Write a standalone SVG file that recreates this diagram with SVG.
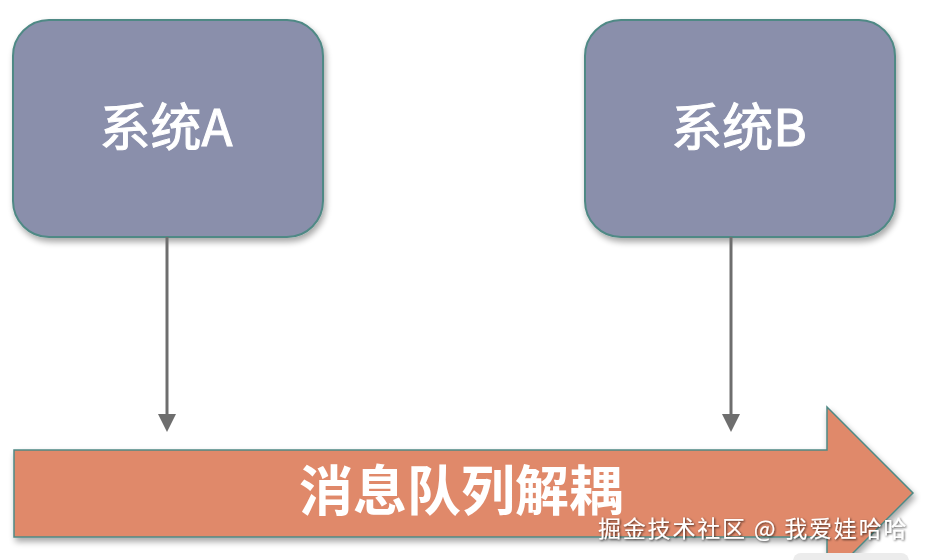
<svg xmlns="http://www.w3.org/2000/svg" width="926" height="560" viewBox="0 0 926 560">
<defs>
<style>
.box{fill:#8a8fab;stroke:#4f8985;stroke-width:2}
.lbl{fill:#ffffff;font-family:"Noto Sans CJK SC","Noto Sans",sans-serif;text-anchor:middle}
.conn{stroke:#6e6e6e;stroke-width:3;fill:none}
.wm{fill:#ffffff;font-family:"Noto Sans CJK SC",sans-serif;font-size:23px;letter-spacing:1.8px}
</style>
<filter id="sh" x="-10%" y="-10%" width="130%" height="130%">
<feGaussianBlur in="SourceAlpha" stdDeviation="3"/>
<feOffset dx="2" dy="4" result="b"/>
<feComponentTransfer><feFuncA type="linear" slope="0.35"/></feComponentTransfer>
<feMerge><feMergeNode/><feMergeNode in="SourceGraphic"/></feMerge>
</filter>
<filter id="ts" x="-5%" y="-20%" width="110%" height="140%">
<feDropShadow dx="1" dy="1" stdDeviation="0.8" flood-color="#000" flood-opacity="0.7"/>
</filter>
</defs>
<rect width="926" height="560" fill="#ffffff"/>
<g id="queue">
<path d="M14 450 H827 V407 L913 493 L827 579 V537 H14 Z" fill="#e0896b" stroke="#4f8985" stroke-width="1.5" filter="url(#sh)"/>
<text class="lbl" x="461" y="511" font-size="54" font-weight="bold">消息队列解耦</text>
</g>
<g id="sysA">
<rect class="box" x="13" y="20" width="310" height="217" rx="36" filter="url(#sh)"/>
<text class="lbl" x="166" y="146" font-size="51" stroke="#ffffff" stroke-width="1">系统A</text>
</g>
<g id="sysB">
<rect class="box" x="585" y="20" width="310" height="217" rx="36" filter="url(#sh)"/>
<text class="lbl" x="739" y="146" font-size="51" stroke="#ffffff" stroke-width="1">系统B</text>
</g>
<g id="connectors">
<line class="conn" x1="167" y1="237" x2="167" y2="416"/>
<path d="M158 414 L176 414 L167 432 Z" fill="#6e6e6e"/>
<line class="conn" x1="731" y1="237" x2="731" y2="416"/>
<path d="M722 414 L740 414 L731 432 Z" fill="#6e6e6e"/>
</g>
<rect x="793" y="553" width="116" height="20" rx="8" fill="#ececec"/>
<text class="wm" x="598" y="537" filter="url(#ts)">掘金技术社区 @ 我爱娃哈哈</text>
</svg>
